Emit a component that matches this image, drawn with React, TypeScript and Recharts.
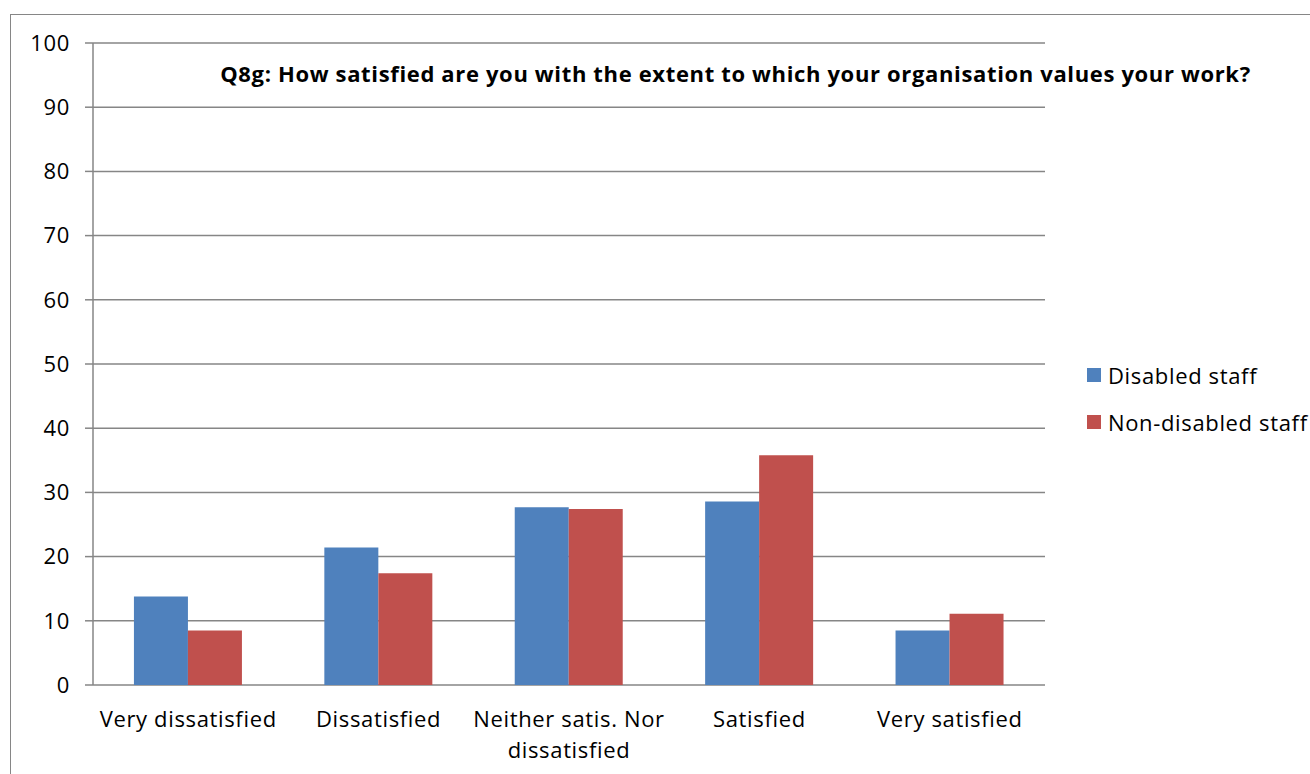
import { BarChart, Bar, XAxis, YAxis, CartesianGrid, Legend } from "recharts";

const categories = ["Very dissatisfied", "Dissatisfied", "Neither satis. Nor dissatisfied", "Satisfied", "Very satisfied"];
const disabledStaff = [13.8, 21.4, 27.7, 28.6, 8.5];
const nonDisabledStaff = [8.5, 17.4, 27.4, 35.8, 11.1];
const yTicks = [0, 10, 20, 30, 40, 50, 60, 70, 80, 90, 100];
const boundaryTicks = [0, 1, 2, 3, 4, 5];

const FONT = "'Open Sans', Lato, sans-serif";
const GRID = "#868686";
const FS = 22;
const LS = 0.65;

const data = categories.map((c, i) => ({
  name: c,
  idx: i + 0.5,
  disabled: disabledStaff[i],
  nonDisabled: nonDisabledStaff[i],
}));

function wrap(label: string, max = 18) {
  const words = label.split(" ");
  const lines: string[] = [];
  let cur = "";
  for (const w of words) {
    const next = cur ? cur + " " + w : w;
    if (next.length > max && cur) {
      lines.push(cur);
      cur = w;
    } else cur = next;
  }
  if (cur) lines.push(cur);
  return lines;
}

const CategoryTick = (props: any) => {
  const { x, y, payload } = props;
  const lines = wrap(String(payload.value));
  return (
    <text x={x} y={y} textAnchor="middle" fill="#000" fontSize={FS} fontFamily={FONT} letterSpacing={LS}>
      {lines.map((l, i) => (
        <tspan key={i} x={x} dy={i === 0 ? 34 : 31}>{l}</tspan>
      ))}
    </text>
  );
};

const LegendContent = (props: any) => {
  const { payload } = props;
  return (
    <div style={{ fontFamily: FONT, fontSize: FS, letterSpacing: LS }}>
      {payload.map((p: any) => (
        <div key={p.value} style={{ display: "flex", alignItems: "center", height: 47 }}>
          <span style={{ width: 14, height: 14, background: p.color, marginRight: 7, display: "inline-block" }} />
          <span>{p.value}</span>
        </div>
      ))}
    </div>
  );
};

export default function App() {
  return (
    <div style={{ position: "absolute", left: 0, top: 0, width: 1310, height: 774, overflow: "hidden", background: "#fff" }}>
      <div style={{ position: "absolute", left: 10, top: 14, width: 1320, height: 800, border: `1px solid ${GRID}` }} />
      <div style={{ position: "absolute", left: 0, top: 0 }}>
        <BarChart
          width={1310}
          height={774}
          data={data}
          margin={{ top: 43, right: 42, bottom: 59, left: 33 }}
          barCategoryGap="21.5%"
          barGap={0}
        >
          <CartesianGrid vertical={false} stroke={GRID} strokeWidth={1.5} />
          <XAxis
            xAxisId="cat"
            dataKey="name"
            interval={0}
            tickLine={false}
            axisLine={false}
            height={30}
            tick={<CategoryTick />}
          />
          <XAxis
            xAxisId="edge"
            type="number"
            dataKey="idx"
            domain={[0, 5]}
            ticks={boundaryTicks}
            tickSize={8}
            tick={false}
            stroke={GRID}
            strokeWidth={1.5}
            height={0}
          />
          <YAxis
            domain={[0, 100]}
            ticks={yTicks}
            width={60}
            tickSize={8}
            tickMargin={15}
            stroke={GRID}
            strokeWidth={1.5}
            tick={{ fill: "#000", fontSize: FS, fontFamily: FONT, letterSpacing: LS }}
          />
          <Legend
            layout="vertical"
            align="right"
            verticalAlign="middle"
            wrapperStyle={{ left: 1087, top: 351, width: 223 }}
            content={<LegendContent />}
          />
          <Bar xAxisId="cat" dataKey="disabled" name="Disabled staff" fill="#4F81BD" isAnimationActive={false} />
          <Bar xAxisId="cat" dataKey="nonDisabled" name="Non-disabled staff" fill="#C0504D" isAnimationActive={false} />
        </BarChart>
      </div>
      <div
        style={{
          position: "absolute",
          left: 200,
          top: 58,
          width: 1071,
          textAlign: "center",
          fontFamily: FONT,
          fontWeight: 700,
          fontSize: FS,
          letterSpacing: LS,
          color: "#000",
          whiteSpace: "nowrap",
        }}
      >
        Q8g: How satisfied are you with the extent to which your organisation values your work?
      </div>
    </div>
  );
}
